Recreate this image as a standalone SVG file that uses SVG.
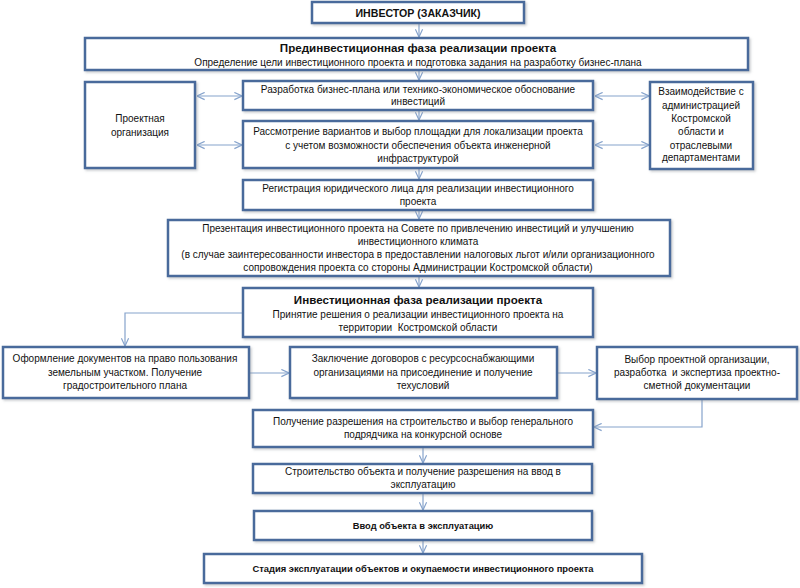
<svg xmlns="http://www.w3.org/2000/svg" width="800" height="588" viewBox="0 0 800 588">
<defs>
<style>
.box{fill:#fff;stroke:#4a6b9b;stroke-width:2.5;filter:url(#sh)}
.t{font-family:"Liberation Sans","Open Sans",sans-serif;font-size:10px;fill:#111;text-anchor:middle}
.b{font-weight:bold;font-size:11px}
.p{white-space:pre}
.c{fill:none;stroke:#86a3cc;stroke-width:1.2}
</style>
<filter id="sh" x="-5%" y="-10%" width="110%" height="130%">
<feDropShadow dx="1.5" dy="1.5" stdDeviation="1" flood-color="#8a8f96" flood-opacity="0.45"/>
</filter>
<marker id="ah" viewBox="0 0 10 10" refX="9.5" refY="5" markerWidth="9" markerHeight="9" markerUnits="userSpaceOnUse" orient="auto-start-reverse">
<path d="M1,1 L9.5,5 L1,9" fill="none" stroke="#86a3cc" stroke-width="1.3"/>
</marker>
</defs>
<rect width="800" height="588" fill="#fff"/>
<g id="connectors">
<line class="c" x1="419" y1="23" x2="419" y2="37" marker-end="url(#ah)"/>
<line class="c" x1="419" y1="70" x2="419" y2="80" marker-end="url(#ah)"/>
<line class="c" x1="419" y1="110" x2="419" y2="120" marker-end="url(#ah)"/>
<line class="c" x1="419" y1="168" x2="419" y2="179" marker-end="url(#ah)"/>
<line class="c" x1="419" y1="210" x2="419" y2="219" marker-end="url(#ah)"/>
<line class="c" x1="419" y1="276" x2="419" y2="287" marker-end="url(#ah)"/>
<line class="c" x1="197" y1="96" x2="242" y2="96" marker-start="url(#ah)" marker-end="url(#ah)"/>
<line class="c" x1="197" y1="145" x2="242" y2="145" marker-start="url(#ah)" marker-end="url(#ah)"/>
<line class="c" x1="595" y1="96" x2="649" y2="96" marker-start="url(#ah)" marker-end="url(#ah)"/>
<line class="c" x1="595" y1="145" x2="649" y2="145" marker-start="url(#ah)" marker-end="url(#ah)"/>
<polyline class="c" points="243,313 125,313 125,346" marker-end="url(#ah)"/>
<line class="c" x1="249" y1="373" x2="289" y2="373" marker-end="url(#ah)"/>
<line class="c" x1="557" y1="373" x2="596" y2="373" marker-end="url(#ah)"/>
<polyline class="c" points="702,399 702,427 594,427" marker-end="url(#ah)"/>
<line class="c" x1="423" y1="447" x2="423" y2="463" marker-end="url(#ah)"/>
<line class="c" x1="423" y1="493" x2="423" y2="510" marker-end="url(#ah)"/>
<line class="c" x1="423" y1="540" x2="423" y2="553" marker-end="url(#ah)"/>
</g>
<g id="investor">
<rect class="box" x="312" y="2" width="212" height="21"/>
<text class="t b" x="418" y="17" style="font-size:10.6px">ИНВЕСТОР (ЗАКАЗЧИК)</text>
</g>
<g id="preinvest">
<rect class="box" x="85" y="38" width="663" height="32"/>
<text class="t b" x="418" y="52" style="font-size:11.6px">Прединвестиционная фаза реализации проекта</text>
<text class="t" x="418" y="66">Определение цели инвестиционного проекта и подготовка задания на разработку бизнес-плана</text>
</g>
<g id="proj-org">
<rect class="box" x="85" y="82" width="110" height="86"/>
<text class="t" x="140" y="122">Проектная</text>
<text class="t" x="140" y="136">организация</text>
</g>
<g id="bizplan">
<rect class="box" x="243" y="81" width="350" height="29"/>
<text class="t" x="418" y="93">Разработка бизнес-плана или технико-экономическое обоснование</text>
<text class="t" x="418" y="105">инвестиций</text>
</g>
<g id="site">
<rect class="box" x="243" y="121" width="350" height="47"/>
<text class="t" x="418" y="135">Рассмотрение вариантов и выбор площадки для локализации проекта</text>
<text class="t" x="418" y="149">с учетом возможности обеспечения объекта инженерной</text>
<text class="t" x="418" y="162">инфраструктурой</text>
</g>
<g id="admin">
<rect class="box" x="650" y="82" width="103" height="87"/>
<text class="t" x="701" y="95">Взаимодействие с</text>
<text class="t" x="701" y="109">администрацией</text>
<text class="t" x="701" y="122">Костромской</text>
<text class="t" x="701" y="135">области и</text>
<text class="t" x="701" y="149">отраслевыми</text>
<text class="t" x="701" y="161">департаментами</text>
</g>
<g id="registration">
<rect class="box" x="243" y="180" width="350" height="30"/>
<text class="t" x="418" y="192">Регистрация юридического лица для реализации инвестиционного</text>
<text class="t" x="418" y="205">проекта</text>
</g>
<g id="presentation">
<rect class="box" x="168" y="220" width="502" height="56"/>
<text class="t" x="418" y="232">Презентация инвестиционного проекта на Совете по привлечению инвестиций и улучшению</text>
<text class="t" x="418" y="245">инвестиционного климата</text>
<text class="t" x="418" y="258">(в случае заинтересованности инвестора в предоставлении налоговых льгот и/или организационного</text>
<text class="t" x="418" y="271">сопровождения проекта со стороны Администрации Костромской области)</text>
</g>
<g id="invest-phase">
<rect class="box" x="243" y="288" width="350" height="49"/>
<text class="t b" x="418" y="304" style="font-size:11.6px">Инвестиционная фаза реализации проекта</text>
<text class="t" x="418" y="318">Принятие решения о реализации инвестиционного проекта на</text>
<text class="t p" x="418" y="331">территории  Костромской области</text>
</g>
<g id="land">
<rect class="box" x="3" y="347" width="246" height="51"/>
<text class="t" x="125" y="362">Оформление документов на право пользования</text>
<text class="t" x="125" y="376">земельным участком. Получение</text>
<text class="t" x="125" y="389">градостроительного плана</text>
</g>
<g id="contracts">
<rect class="box" x="290" y="347" width="267" height="51"/>
<text class="t" x="423" y="362">Заключение договоров с ресурсоснабжающими</text>
<text class="t" x="423" y="376">организациями на присоединение и получение</text>
<text class="t" x="423" y="389">техусловий</text>
</g>
<g id="design">
<rect class="box" x="597" y="347" width="200" height="52"/>
<text class="t" x="697" y="363">Выбор проектной организации,</text>
<text class="t p" x="697" y="376">разработка  и экспертиза проектно-</text>
<text class="t" x="697" y="389">сметной документации</text>
</g>
<g id="permit">
<rect class="box" x="253" y="410" width="340" height="37"/>
<text class="t" x="423" y="425">Получение разрешения на строительство и выбор генерального</text>
<text class="t" x="423" y="438">подрядчика на конкурсной основе</text>
</g>
<g id="construction">
<rect class="box" x="253" y="464" width="339" height="29"/>
<text class="t" x="423" y="475">Строительство объекта и получение разрешения на ввод в</text>
<text class="t" x="423" y="488">эксплуатацию</text>
</g>
<g id="commission">
<rect class="box" x="254" y="511" width="338" height="29"/>
<text class="t b" x="423" y="529" style="font-size:9.3px">Ввод объекта в эксплуатацию</text>
</g>
<g id="operation">
<rect class="box" x="204" y="554" width="438" height="29"/>
<text class="t b" x="423" y="572" style="font-size:9.4px">Стадия эксплуатации объектов и окупаемости инвестиционного проекта</text>
</g>
</svg>
